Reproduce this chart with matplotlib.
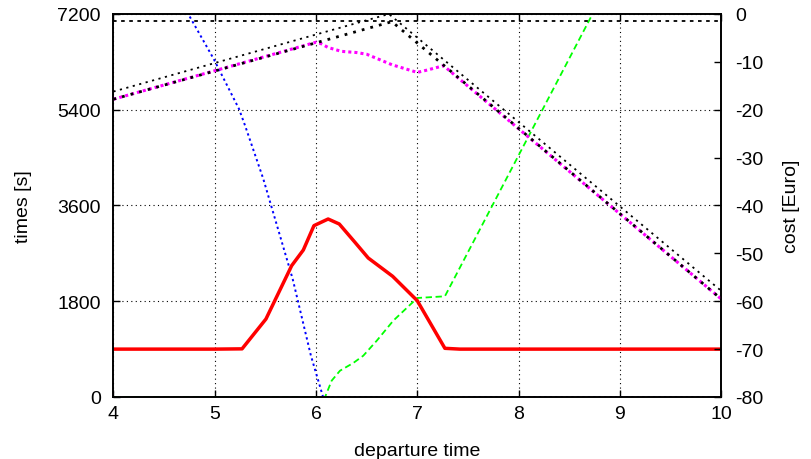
import matplotlib.pyplot as plt
import numpy as np

plt.rcParams['font.family'] = ['Liberation Sans', 'DejaVu Sans']
plt.rcParams['font.size'] = 14
plt.rcParams['axes.unicode_minus'] = False

# travel time [s] over departure time [h]
t_travel = [4.0, 5.0, 5.27, 5.506, 5.76, 5.875, 5.98, 6.12, 6.23, 6.385, 6.516, 6.757, 7.0, 7.273, 7.42, 10.0]
travel = [900, 900, 905, 1466, 2469, 2763, 3221, 3346, 3252, 2908, 2613, 2269, 1811, 915, 900, 900]

# early arrival [s]
t_early = [4.70, 4.99, 5.24, 5.30, 5.48, 5.77, 5.95, 6.07, 10.0]
early = [7330, 6355, 5415, 5101, 4099, 2218, 777, 0, 0]

# late arrival [s]
t_late = [4.0, 6.09, 6.155, 6.237, 6.368, 6.467, 6.60, 6.763, 7.0, 7.273, 9.0]
late = [0, 0, 307, 494, 639, 776, 1058, 1434, 1861, 1893, 8180]

# costs [Euro]
t_cost = [4.0, 6.0, 6.05, 6.12, 6.25, 6.4, 6.5, 6.75, 7.0, 7.1, 7.26, 10.0]
cost = [-17.8, -5.9, -6.2, -7.0, -7.8, -8.05, -8.4, -10.6, -12.2, -11.7, -10.8, -59.5]
t_lower = [4.0, 6.75, 10.0]
lower = [-17.8, -1.6, -59.5]
t_upper = [4.0, 6.72, 10.0]
upper = [-16.2, 0.0, -57.8]
t_const = [4.0, 10.0]
const = [-1.4, -1.4]

fig = plt.figure(figsize=(8.12, 4.6), dpi=100)
ax = fig.add_axes([0.1397, 0.1348, 0.7483, 0.8326])
ax2 = ax.twinx()

ax.plot(t_early, early, color='#0000ff', lw=1.4, ls=(0, (1.2, 1.6)))
ax.plot(t_late, late, color='#00ff00', lw=1.3, ls=(0, (3.5, 2)))
ax.plot(t_travel, travel, color='#ff0000', lw=2.5)

ax2.plot(t_cost, cost, color='#ff00ff', lw=2.2, ls=(0, (1, 1)))
ax2.plot(t_const, const, color='black', lw=1.3, ls=(0, (2, 2.5)))
ax2.plot(t_upper, upper, color='black', lw=1.3, ls=(0, (1.2, 2.5)))
ax2.plot(t_lower, lower, color='black', lw=2.0, ls=(0, (1, 2.2)))

ax.set_xlim(4, 10)
ax.set_ylim(0, 7200)
ax2.set_ylim(-80, 0)
ax.set_xticks(np.arange(4, 11, 1))
ax.set_yticks([0, 1800, 3600, 5400, 7200])
ax2.set_yticks(np.arange(-80, 1, 10))

ax.grid(True, color='black', ls=(0, (1, 3)), lw=0.8)
ax.tick_params(direction='in', length=5, width=1, top=True, right=False)
ax.tick_params(axis='y', pad=9)
ax.tick_params(axis='x', pad=6)
ax2.tick_params(direction='in', length=5, width=1, pad=10)

for a in (ax, ax2):
    for s in a.spines.values():
        s.set_linewidth(1.2)

ax.set_xlabel('departure time', labelpad=14)
ax.set_ylabel('times [s]', labelpad=18)
ax2.set_ylabel('cost [Euro]', labelpad=14)

fig.savefig('out.png', dpi=100)
